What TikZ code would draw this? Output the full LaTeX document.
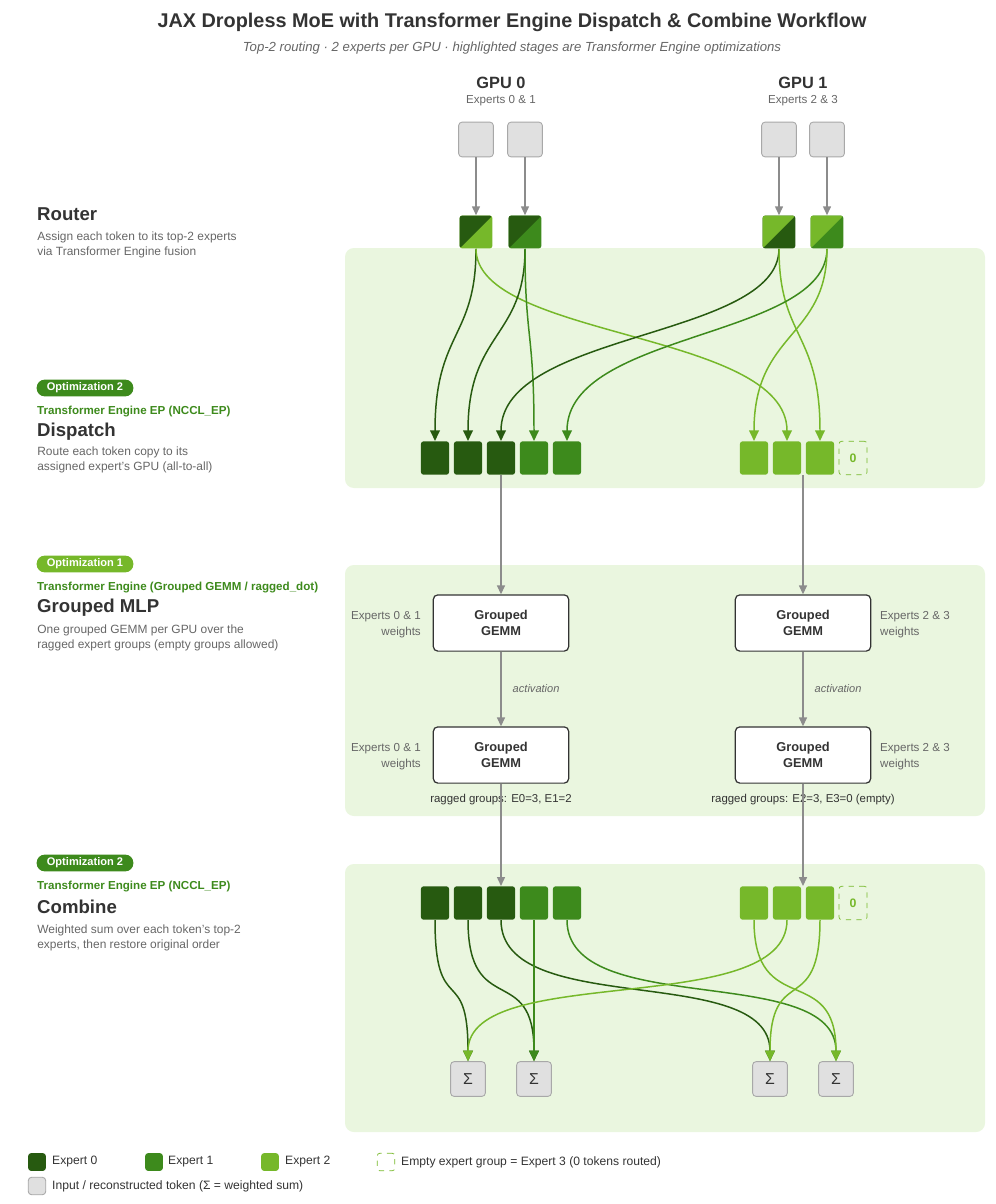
\documentclass[tikz,border=0pt]{standalone}
\usepackage{fontspec}
\setmainfont{Liberation Sans}
\usetikzlibrary{arrows.meta}
\definecolor{eA}{HTML}{275A10}
\definecolor{eB}{HTML}{3D8A1C}
\definecolor{eC}{HTML}{76B82A}
\definecolor{panel}{HTML}{EAF6DF}
\definecolor{tokf}{HTML}{E0E0E0}
\definecolor{tokd}{HTML}{A8A8A8}
\definecolor{txt}{HTML}{333333}
\definecolor{sub}{HTML}{666666}
\begin{document}
\begin{tikzpicture}[x=0.02cm,y=-0.02cm,
  tok/.style={draw=tokd,fill=tokf,rounded corners=2pt,minimum size=19.8pt,inner sep=0pt,line width=0.5pt},
  slot/.style={fill=#1,rounded corners=1.5pt,minimum width=16pt,minimum height=19pt,inner sep=0pt},
  empty/.style={draw=eC,dashed,fill=none,rounded corners=1.5pt,minimum width=16pt,minimum height=19pt,inner sep=0pt,text=eC,font=\fontsize{7}{8}\selectfont\bfseries},
  rt/.style 2 args={fill=#2,rounded corners=1.5pt,minimum size=18.7pt,inner sep=0pt,
    path picture={\fill[#1] (path picture bounding box.north west) -- (path picture bounding box.north east) -- (path picture bounding box.south west) -- cycle;}},
  gemm/.style={draw=txt,fill=white,rounded corners=2.5pt,minimum width=77pt,minimum height=32pt,align=center,font=\fontsize{7.3}{9}\selectfont\bfseries,text=txt,line width=0.7pt},
  sig/.style={tok,font=\fontsize{9}{10}\selectfont,text=txt},
  ga/.style={draw=gray!90,line width=0.7pt,-{Triangle[length=5pt,width=4.5pt]}},
  fl/.style={draw=#1,line width=0.85pt,-{Triangle[length=6pt,width=5.5pt]}},
  pnl/.style={fill=panel,rounded corners=5pt},
  badge/.style={fill=#1,rounded corners=4.5pt,minimum width=55pt,minimum height=9.5pt,inner sep=0pt,text=white,font=\fontsize{6.3}{7}\selectfont\bfseries},
  head/.style={anchor=west,font=\fontsize{10.6}{12}\selectfont\bfseries,text=txt},
  teg/.style={anchor=west,font=\fontsize{6.6}{7.5}\selectfont\bfseries,text=eB},
  desc/.style={anchor=north west,align=left,font=\fontsize{6.8}{8.8}\selectfont,text=sub,inner sep=0pt},
  small/.style={font=\fontsize{6.6}{9}\selectfont,text=sub},
  leg/.style={anchor=west,font=\fontsize{6.9}{8}\selectfont,text=txt}]
\useasboundingbox (0,0) rectangle (995,1204);
% panels
\fill[pnl] (345,248) rectangle (985,488);
\fill[pnl] (345,565) rectangle (985,816);
\fill[pnl] (345,864) rectangle (985,1132);
% title
\node[font=\fontsize{11.3}{13}\selectfont\bfseries,text=txt] (title) at (512,22) {JAX Dropless MoE with Transformer Engine Dispatch \& Combine Workflow};
\node[font=\fontsize{7.5}{9}\selectfont\itshape,text=sub] (subt) at (512,48) {Top-2 routing · 2 experts per GPU · highlighted stages are Transformer Engine optimizations};
\node[font=\fontsize{9.3}{11}\selectfont\bfseries,text=txt] (g0) at (501,83) {GPU 0};
\node[small] (g0s) at (501,101) {Experts 0 \& 1};
\node[font=\fontsize{9.3}{11}\selectfont\bfseries,text=txt] (g1) at (803,83) {GPU 1};
\node[small] (g1s) at (803,101) {Experts 2 \& 3};
% left labels
\node[head] (hr) at (31,214) {Router};
\node[desc] (dr) at (37,231) {Assign each token to its top-2 experts\\via Transformer Engine fusion};
\node[badge=eB] (b1) at (85,388) {Optimization 2};
\node[teg] (t1) at (31,412) {Transformer Engine EP (NCCL\_EP)};
\node[head] (hd) at (31,432) {Dispatch};
\node[desc] (dd) at (37,446) {Route each token copy to its\\assigned expert's GPU (all-to-all)};
\node[badge=eC] (b2) at (85,564) {Optimization 1};
\node[teg] (t2) at (31,588) {Transformer Engine (Grouped GEMM / ragged\_dot)};
\node[head] (hg) at (31,608) {Grouped MLP};
\node[desc] (dg) at (37,624) {One grouped GEMM per GPU over the\\ragged expert groups (empty groups allowed)};
\node[badge=eB] (b3) at (85,863) {Optimization 2};
\node[teg] (t3) at (31,887) {Transformer Engine EP (NCCL\_EP)};
\node[head] (hc) at (31,907) {Combine};
\node[desc] (dc) at (37,924) {Weighted sum over each token's top-2\\experts, then restore original order};
% tokens
\foreach \n/\x in {0/476,1/525,2/779,3/827}{\node[tok] (t\n) at (\x,139.5) {};}
\node[rt={eA}{eC}] (r0) at (476,232) {};
\node[rt={eA}{eB}] (r1) at (525,232) {};
\node[rt={eC}{eA}] (r2) at (779,232) {};
\node[rt={eC}{eB}] (r3) at (827,232) {};
\foreach \n in {0,...,3}{\draw[ga] (t\n) -- (r\n);}
% dispatch slots
\foreach \n/\x/\c in {1/435/eA,2/468/eA,3/501/eA,4/534/eB,5/567/eB,6/754/eC,7/787/eC,8/820/eC}{\node[slot=\c] (d\n) at (\x,458) {};}
\node[empty] (d9) at (853,458) {0};
\newcommand{\flow}[3]{\draw[fl=#1] (#2.south) .. controls +(0,90) and +(0,-110) .. (#3.north);}
\flow{eA}{r0}{d1}
\flow{eC}{r0}{d7}
\flow{eA}{r1}{d2}
\flow{eB}{r1}{d4}
\flow{eA}{r2}{d3}
\flow{eC}{r2}{d8}
\flow{eB}{r3}{d5}
\flow{eC}{r3}{d6}
% grouped
\node[gemm] (ga1) at (501,623) {Grouped\\GEMM};
\node[gemm] (ga2) at (501,755) {Grouped\\GEMM};
\node[gemm] (gb1) at (803,623) {Grouped\\GEMM};
\node[gemm] (gb2) at (803,755) {Grouped\\GEMM};
\coordinate (dB) at (803,475);
\draw[ga] (d3.south) -- (ga1.north);
\draw[ga] (dB) -- (gb1.north);
\draw[ga] (ga1) -- node[right=3pt,small,font=\fontsize{6.3}{7}\selectfont\itshape] (act1) {activation} (ga2);
\draw[ga] (gb1) -- node[right=3pt,small,font=\fontsize{6.3}{7}\selectfont\itshape] (act2) {activation} (gb2);
\node[small,align=right,anchor=east] (wa1) at (427,625) {Experts 0 \& 1\\weights};
\node[small,align=right,anchor=east] (wa2) at (427,757) {Experts 0 \& 1\\weights};
\node[small,align=left,anchor=west] (wb1) at (874,625) {Experts 2 \& 3\\weights};
\node[small,align=left,anchor=west] (wb2) at (874,757) {Experts 2 \& 3\\weights};
\node[font=\fontsize{6.5}{7}\selectfont,text=txt] (rg1) at (501,800) {ragged groups: E0=3, E1=2};
\node[font=\fontsize{6.5}{7}\selectfont,text=txt] (rg2) at (803,800) {ragged groups: E2=3, E3=0 (empty)};
% combine slots
\foreach \n/\x/\c in {1/435/eA,2/468/eA,3/501/eA,4/534/eB,5/567/eB,6/754/eC,7/787/eC,8/820/eC}{\node[slot=\c] (c\n) at (\x,903) {};}
\node[empty] (c9) at (853,903) {0};
\draw[ga] (ga2.south) -- (c3.north);
\draw[ga] (gb2.south) -- (803,886);
% sigma
\foreach \n/\x in {1/468,2/534,3/770,4/836}{\node[sig] (s\n) at (\x,1079) {Σ};}
\newcommand{\cflow}[3]{\draw[fl=#1] (#2.south) .. controls +(0,100) and +(0,-100) .. (#3.north);}
\cflow{eA}{c1}{s1}
\cflow{eA}{c2}{s2}
\cflow{eA}{c3}{s3}
\draw[fl=eB] (c4.south) -- (s2.north);
\cflow{eB}{c5}{s4}
\cflow{eC}{c6}{s4}
\cflow{eC}{c7}{s1}
\cflow{eC}{c8}{s3}
% legend
\node[slot=eA,minimum width=10pt,minimum height=10pt] (l1) at (37,1162) {};
\node[leg] (l1t) at (46,1162) {Expert 0};
\node[slot=eB,minimum width=10pt,minimum height=10pt] (l2) at (154,1162) {};
\node[leg] (l2t) at (162,1162) {Expert 1};
\node[slot=eC,minimum width=10pt,minimum height=10pt] (l3) at (270,1162) {};
\node[leg] (l3t) at (279,1162) {Expert 2};
\node[empty,minimum width=10pt,minimum height=10pt] (l4) at (386,1162) {};
\node[leg] (l4t) at (395,1162) {Empty expert group = Expert 3 (0 tokens routed)};
\node[tok,minimum size=10pt] (l5) at (37,1186) {};
\node[leg] (l5t) at (46,1186) {Input / reconstructed token (Σ = weighted sum)};
\end{tikzpicture}
\end{document}
